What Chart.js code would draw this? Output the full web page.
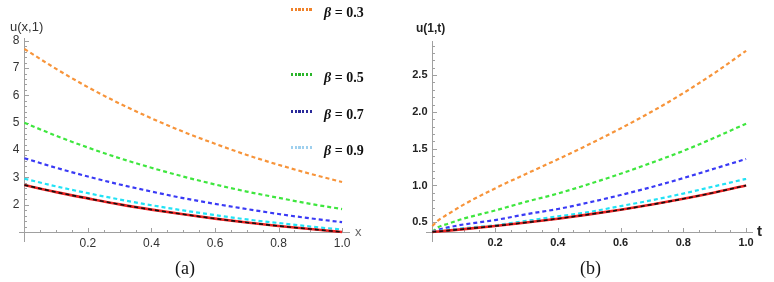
<!DOCTYPE html>
<html>
<head>
<meta charset="utf-8">
<script src="https://cdn.jsdelivr.net/npm/chart.js@4.4.1/dist/chart.umd.min.js"></script>
<style>
  body { margin: 0; background: #fff; width: 774px; height: 282px; position: relative; overflow: hidden; font-family: "Liberation Sans", Arial, sans-serif; }
  canvas { position: absolute; top: 0; }
  #ca { left: 0; }
  #cb { left: 390px; }
  .lab { position: absolute; white-space: nowrap; line-height: 1; }
  .key { position: absolute; width: 22px; height: 2.5px; }
  .beta { font-family: "Liberation Serif", serif; font-size: 14px; font-weight: bold; color: #111; }
  .beta i { font-style: italic; }
  .cap { font-family: "Liberation Serif", serif; font-size: 18px; color: #111; }
</style>
</head>
<body>
<canvas id="ca" width="390" height="282"></canvas>
<canvas id="cb" width="384" height="282"></canvas>

<div class="lab" style="left:10px;top:20px;font-size:13px;color:#333">u(x,1)</div>
<div class="lab" style="left:355px;top:225px;font-size:13px;color:#666">x</div>
<div class="lab cap" style="left:175px;top:259px">(a)</div>

<div class="lab" style="left:416px;top:22px;font-size:12px;font-weight:bold;color:#222">u(1,t)</div>
<div class="lab" style="left:757px;top:223px;font-size:15px;font-weight:bold;color:#222">t</div>
<div class="lab cap" style="left:580px;top:259px">(b)</div>

<div id="legend"></div>

<script>
// panel (a): u(x,1)
const xVals = [0, 0.1, 0.2, 0.3, 0.4, 0.5, 0.6, 0.7, 0.8, 0.9, 1.0];
const uxB03 = [7.70, 6.97, 6.30, 5.70, 5.16, 4.67, 4.23, 3.82, 3.46, 3.13, 2.83];
const uxB05 = [5.00, 4.52, 4.09, 3.70, 3.35, 3.03, 2.74, 2.48, 2.25, 2.03, 1.84];
const uxB07 = [3.70, 3.35, 3.03, 2.74, 2.48, 2.24, 2.03, 1.84, 1.66, 1.50, 1.36];
const uxB09 = [2.95, 2.67, 2.42, 2.19, 1.98, 1.79, 1.62, 1.46, 1.33, 1.20, 1.09];
const uxExact = [2.72, 2.46, 2.23, 2.01, 1.82, 1.65, 1.49, 1.35, 1.22, 1.11, 1.00];

// panel (b): u(1,t)
const tVals = [0, 0.02, 0.05, 0.1, 0.2, 0.3, 0.4, 0.5, 0.6, 0.7, 0.8, 0.9, 1.0];
const utB03 = [0.45, 0.53, 0.61, 0.74, 0.96, 1.16, 1.355, 1.56, 1.775, 2.005, 2.255, 2.53, 2.83];
const utB05 = [0.37, 0.435, 0.48, 0.55, 0.66, 0.78, 0.89, 1.02, 1.16, 1.31, 1.47, 1.65, 1.84];
const utB07 = [0.37, 0.40, 0.43, 0.47, 0.53, 0.61, 0.68, 0.77, 0.87, 0.98, 1.10, 1.23, 1.36];
const utB09 = [0.37, 0.38, 0.40, 0.42, 0.46, 0.52, 0.58, 0.64, 0.72, 0.80, 0.89, 0.99, 1.09];
const utExact = [0.368, 0.375, 0.387, 0.407, 0.449, 0.497, 0.549, 0.607, 0.670, 0.741, 0.819, 0.905, 1.00];

const betas = ['0.3', '0.5', '0.7', '0.9'];
const xTicks = [0.2, 0.4, 0.6, 0.8, 1.0];
const yTicksA = [2, 3, 4, 5, 6, 7, 8];
const yTicksB = [0.5, 1.0, 1.5, 2.0, 2.5];

const lineColors = ['#f7943a', '#3ee63e', '#3a3af5', '#22e2f5'];
const keyColors = ['#f0822a', '#2ab52a', '#2a2a9a', '#9fd0ee'];
const keyTops = [9, 74, 111, 147];
const axisColor = '#a0a0a0';

function mkSet(xs, ys, color, dash, width) {
  return {
    data: xs.map((v, i) => ({ x: v, y: ys[i] })),
    borderColor: color,
    borderDash: dash,
    borderWidth: width,
    pointRadius: 0,
    cubicInterpolationMode: 'monotone',
    fill: false
  };
}

function range(from, to, step) {
  const out = [];
  for (let v = from; v <= to + 1e-9; v += step) out.push(+v.toFixed(3));
  return out;
}

function axesPlugin(cfg) {
  return {
    id: 'axes',
    beforeDatasetsDraw(chart) {
      const { ctx, scales: { x, y } } = chart;
      const x0 = Math.round(x.getPixelForValue(0)) + 0.5;
      const y0 = Math.round(y.getPixelForValue(cfg.yCross)) + 0.5;
      ctx.save();
      ctx.strokeStyle = axisColor;
      ctx.lineWidth = 1;
      ctx.beginPath();
      ctx.moveTo(x.left, y0); ctx.lineTo(x.right, y0);
      ctx.moveTo(x0, y.top); ctx.lineTo(x0, y.bottom);
      range(0.05, 1.0, 0.05).forEach(v => {
        const px = Math.round(x.getPixelForValue(v)) + 0.5;
        const len = xTicks.includes(v) ? 4.5 : 2.5;
        ctx.moveTo(px, y0); ctx.lineTo(px, y0 - len);
      });
      cfg.yMinor.forEach(v => {
        const py = Math.round(y.getPixelForValue(v)) + 0.5;
        const len = cfg.yTicks.includes(v) ? 4.5 : 2.5;
        ctx.moveTo(x0, py); ctx.lineTo(x0 + len, py);
      });
      ctx.stroke();

      ctx.font = cfg.font;
      ctx.fillStyle = cfg.color;
      ctx.textAlign = 'center';
      ctx.textBaseline = 'middle';
      xTicks.forEach(v => ctx.fillText(v.toFixed(1), x.getPixelForValue(v), y0 + cfg.xLabGap));
      ctx.textAlign = 'right';
      cfg.yTicks.forEach(v => ctx.fillText(cfg.fmt(v), x0 - 5, y.getPixelForValue(v)));
      ctx.restore();
    }
  };
}

function makeChart(id, datasets, padding, xr, yr, axes) {
  return new Chart(document.getElementById(id), {
    type: 'line',
    data: { datasets: datasets },
    options: {
      responsive: false,
      animation: false,
      layout: { padding: padding },
      plugins: { legend: { display: false }, tooltip: { enabled: false } },
      scales: {
        x: { type: 'linear', min: xr[0], max: xr[1], display: false },
        y: { type: 'linear', min: yr[0], max: yr[1], display: false }
      }
    },
    plugins: [axesPlugin(axes)]
  });
}

const dash = [4, 3];

makeChart('ca', [
  mkSet(xVals, uxExact, '#111', dash, 1.6),
  mkSet(xVals, uxExact, '#ee2222', [], 2.6),
  mkSet(xVals, uxB09, lineColors[3], dash, 2.2),
  mkSet(xVals, uxB07, lineColors[2], dash, 2.2),
  mkSet(xVals, uxB05, lineColors[1], dash, 2.2),
  mkSet(xVals, uxB03, lineColors[0], dash, 2.2)
], { left: 19, right: 40, top: 38, bottom: 40 }, [-0.017, 1.025], [0.634, 8.1], {
  yCross: 1,
  yTicks: yTicksA,
  yMinor: range(1.2, 8.0, 0.2),
  font: '12px "Liberation Sans", Arial, sans-serif',
  color: '#333',
  xLabGap: 11,
  fmt: v => String(v)
});

makeChart('cb', [
  mkSet(tVals, utExact, '#111', dash, 1.6),
  mkSet(tVals, utExact, '#ee2222', [], 2.6),
  mkSet(tVals, utB09, lineColors[3], dash, 2.2),
  mkSet(tVals, utB07, lineColors[2], dash, 2.2),
  mkSet(tVals, utB05, lineColors[1], dash, 2.2),
  mkSet(tVals, utB03, lineColors[0], dash, 2.2)
], { left: 36, right: 21, top: 41, bottom: 40 }, [-0.02, 1.022], [0.232, 2.963], {
  yCross: 0.368,
  yTicks: yTicksB,
  yMinor: range(0.4, 2.9, 0.1),
  font: 'bold 11px "Liberation Sans", Arial, sans-serif',
  color: '#222',
  xLabGap: 10,
  fmt: v => v.toFixed(1)
});

// legend of panel (a)
const legend = document.getElementById('legend');
betas.forEach((b, i) => {
  const key = document.createElement('div');
  key.className = 'key';
  key.style.left = '291px';
  key.style.top = (keyTops[i] - 1) + 'px';
  key.style.background = `repeating-linear-gradient(90deg, ${keyColors[i]} 0 2.3px, transparent 2.3px 3.7px)`;
  legend.appendChild(key);
  const txt = document.createElement('div');
  txt.className = 'lab beta';
  txt.style.left = '324px';
  txt.style.top = (keyTops[i] - 3) + 'px';
  txt.innerHTML = `<i>β</i> = ${b}`;
  legend.appendChild(txt);
});
</script>
</body>
</html>
